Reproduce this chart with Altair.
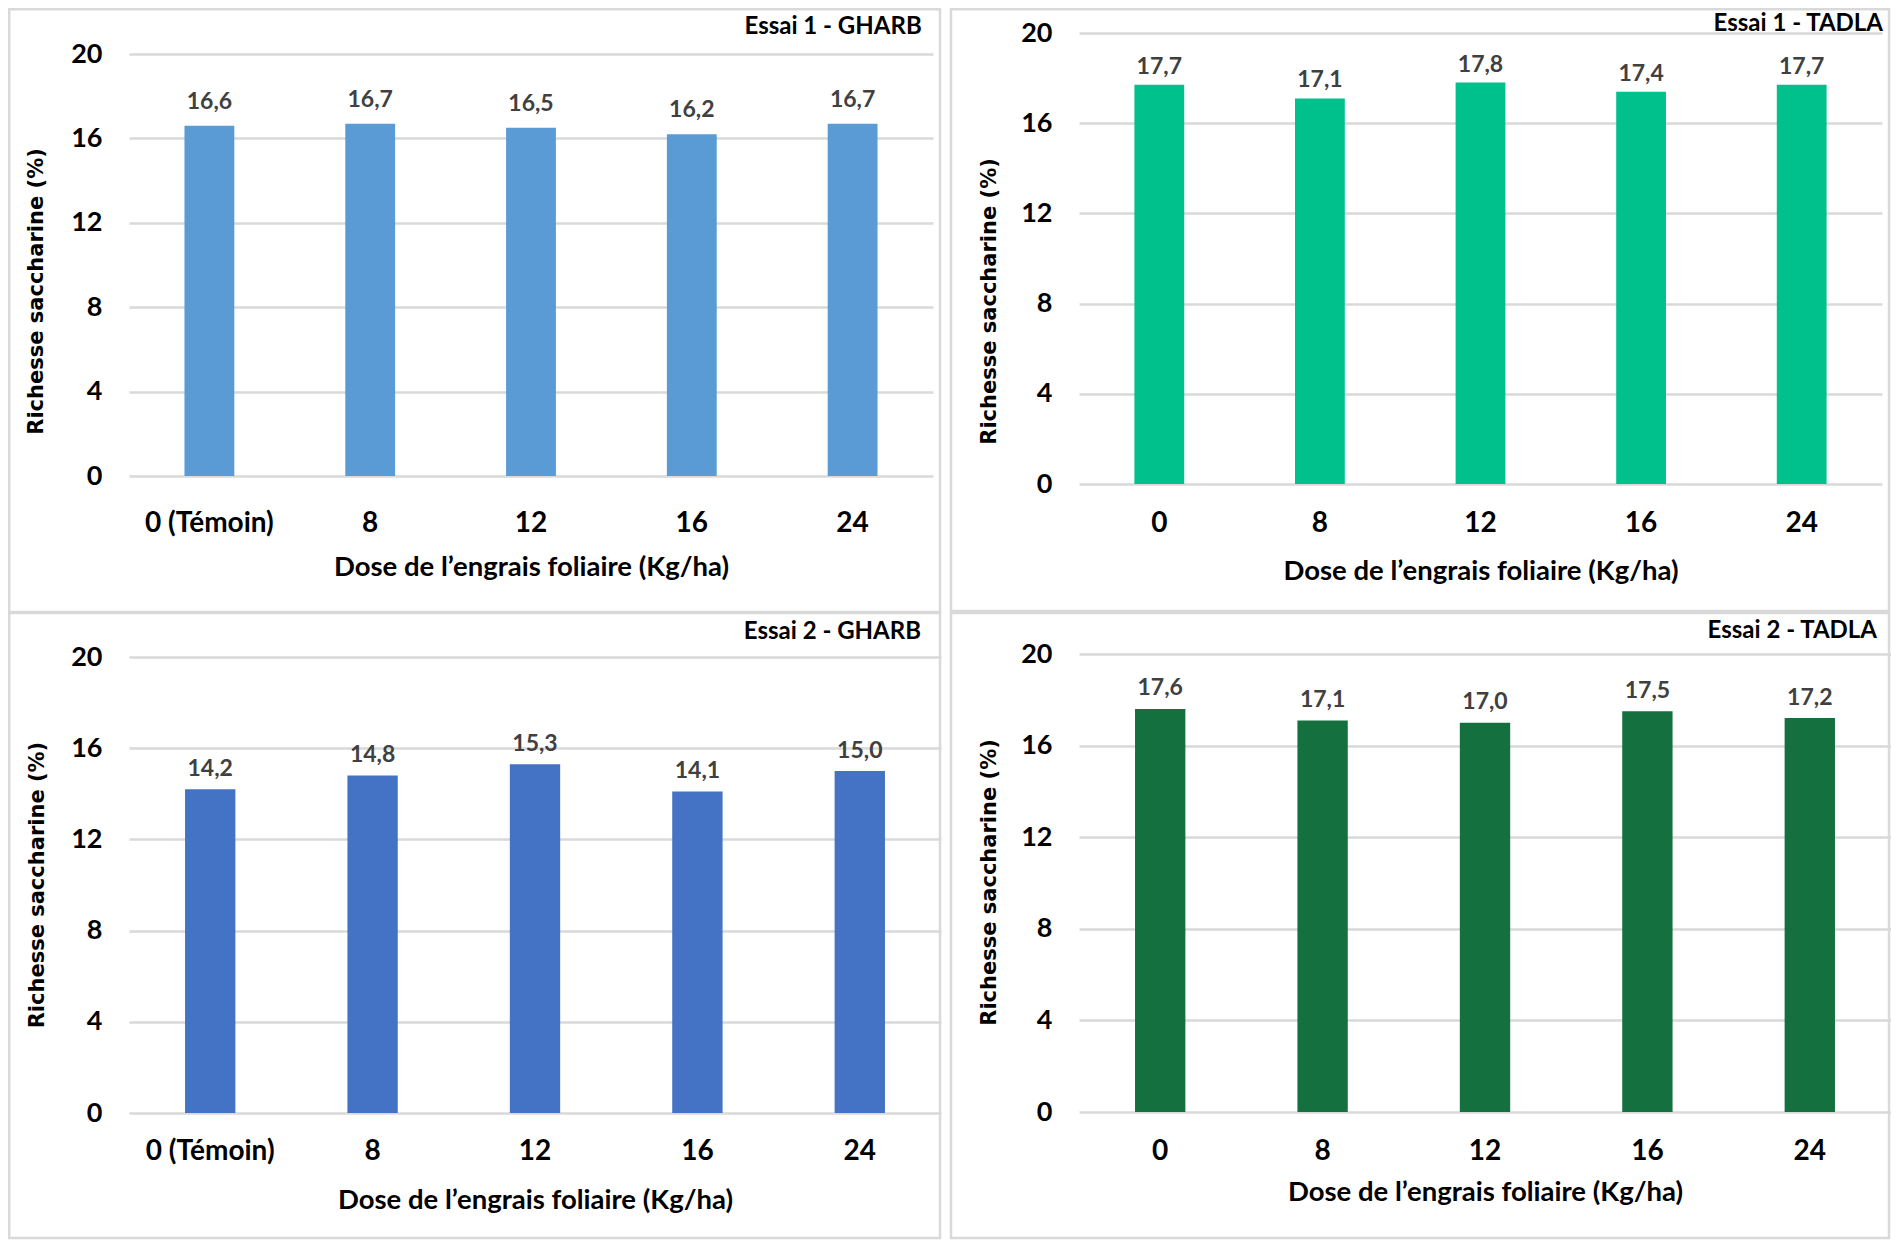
import altair as alt
import pandas as pd

# ---- data ----
doses_gharb = ["0 (Témoin)", "8", "12", "16", "24"]
doses_tadla = ["0", "8", "12", "16", "24"]
essai1_gharb = [16.6, 16.7, 16.5, 16.2, 16.7]
essai1_tadla = [17.7, 17.1, 17.8, 17.4, 17.7]
essai2_gharb = [14.2, 14.8, 15.3, 14.1, 15.0]
essai2_tadla = [17.6, 17.1, 17.0, 17.5, 17.2]
panel_titles = ["Essai 1 - GHARB", "Essai 1 - TADLA", "Essai 2 - GHARB", "Essai 2 - TADLA"]
bar_colors = ["#5B9BD5", "#00C08B", "#4472C4", "#15703F"]
x_title = "Dose de l’engrais foliaire (Kg/ha)"
y_title = "Richesse saccharine (%)"
y_ticks = [0, 4, 8, 12, 16, 20]

FONT = "Lato"
YFONT = "DejaVu Sans"
GRID = "#D9D9D9"


def panel(cats, vals, color, title, w, h, ymax, lab_pad, xt_y, yt_x, yt_y, box, tpos, ldy):
    df = pd.DataFrame({
        "dose": cats,
        "val": vals,
        "lab": [f"{v:.1f}".replace(".", ",") for v in vals],
    })
    x = alt.X(
        "dose:N", sort=cats, title=x_title,
        scale=alt.Scale(paddingInner=0.69, paddingOuter=0.345),
        axis=alt.Axis(
            labelAngle=0, domain=False, ticks=False, tickSize=0,
            labelPadding=lab_pad, labelBaseline="middle",
            labelFont=FONT, labelFontSize=28, labelFontWeight="bold", labelColor="black",
            titleFont=FONT, titleFontSize=27.5, titleFontWeight="bold", titleColor="black",
            titleY=xt_y, titleBaseline="middle",
        ),
    )
    y = alt.Y(
        "val:Q", title=y_title,
        scale=alt.Scale(domain=[0, ymax], nice=False, zero=True),
        axis=alt.Axis(
            values=y_ticks, domain=False, ticks=False, tickSize=0,
            labelPadding=27, labelFont=FONT, labelFontSize=27,
            labelFontWeight="bold", labelColor="black",
            grid=True, gridColor=GRID, gridWidth=2.5,
            titleFont=YFONT, titleFontSize=21, titleFontWeight="bold", titleColor="black",
            titleX=yt_x, titleY=yt_y, titleAngle=270,
            titleAlign="center", titleBaseline="middle",
        ),
    )
    border = alt.Chart(pd.DataFrame({"b": [0]})).mark_rect(
        filled=False, stroke=GRID, strokeWidth=2.5
    ).encode(
        x=alt.value(box[0]), x2=alt.value(box[1]),
        y=alt.value(box[2]), y2=alt.value(box[3]),
    )
    base = alt.Chart(df)
    bars = base.mark_bar(color=color).encode(x=x, y=y)
    labels = base.mark_text(
        dy=ldy, baseline="middle", font=FONT, fontSize=23,
        fontWeight="bold", color="#404040",
    ).encode(x=x, y=y, text="lab:N")
    ttl = alt.Chart(pd.DataFrame({"t": [title]})).mark_text(
        align="right", baseline="middle", font=FONT, fontSize=24,
        fontWeight="bold", color="black",
    ).encode(text="t:N", x=alt.value(tpos[0]), y=alt.value(tpos[1]))
    return alt.layer(border, bars, labels, ttl).properties(width=w, height=h)


tl = panel(doses_gharb, essai1_gharb, bar_colors[0], panel_titles[0],
           804, 443, 20 * 443 / 422, 47, 91, -93, 258,
           (-119.75, 811, -23.75, 579), (792.7, -6), -24)
tr = panel(doses_tadla, essai1_tadla, bar_colors[1], panel_titles[1],
           803, 451, 20, 39, 87, -90, 268,
           (-128, 810, -23.75, 578), (804, -9.5), -18)
bl = panel(doses_gharb, essai2_gharb, bar_colors[2], panel_titles[2],
           812, 459, 20 * 459 / 456, 38, 87, -91.4, 230.6,
           (-119.75, 811, -41, 584), (792, -22), -20.5)
br = panel(doses_tadla, essai2_tadla, bar_colors[3], panel_titles[3],
           812, 458, 20, 39, 80.5, -90, 228,
           (-128, 810, -41, 584), (798, -23), -20.5)

chart = alt.concat(
    tl, tr, bl, br, columns=2,
    spacing=alt.RowColnumber(row=170, column=138),
    bounds="flush",
).configure_view(strokeWidth=0).properties(padding=0, background="white")

chart.save("out.html", embed_options={"renderer": "svg", "actions": False})
